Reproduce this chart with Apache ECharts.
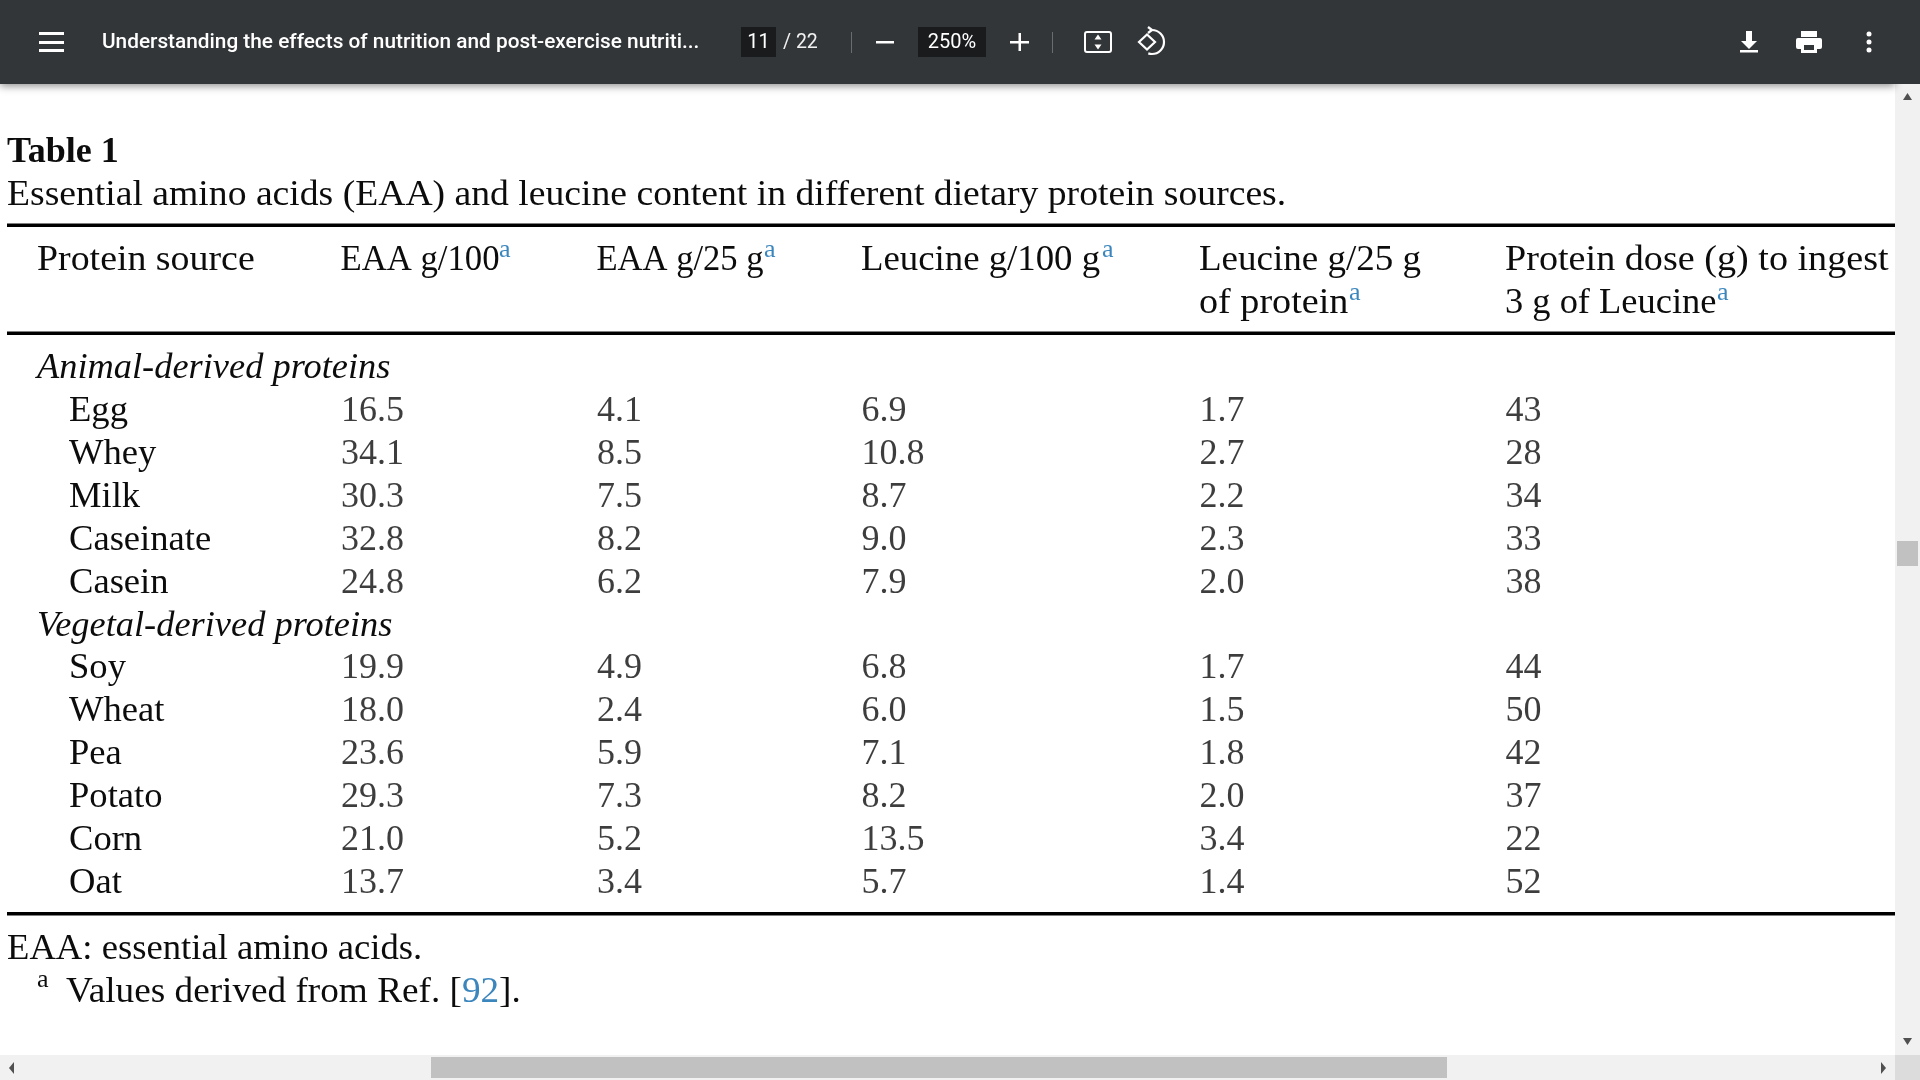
<![CDATA[<!DOCTYPE html>
<html><head><meta charset="utf-8">
<style>html,body{margin:0;padding:0;background:#fff;overflow:hidden}#c{width:1920px;height:1080px}</style>
<script src="https://cdn.jsdelivr.net/npm/echarts@6/dist/echarts.min.js"></script>
</head><body><div id="c"></div>
<script>
const rows = ['Animal-derived proteins','Egg','Whey','Milk','Caseinate','Casein','Vegetal-derived proteins','Soy','Wheat','Pea','Potato','Corn','Oat'];
const groupRows = ['Animal-derived proteins','Vegetal-derived proteins'];
const eaa100 = [null,16.5,34.1,30.3,32.8,24.8,null,19.9,18.0,23.6,29.3,21.0,13.7];
const eaa25 = [null,4.1,8.5,7.5,8.2,6.2,null,4.9,2.4,5.9,7.3,5.2,3.4];
const leu100 = [null,6.9,10.8,8.7,9.0,7.9,null,6.8,6.0,7.1,8.2,13.5,5.7];
const leu25 = [null,1.7,2.7,2.2,2.3,2.0,null,1.7,1.5,1.8,2.0,3.4,1.4];
const dose = [null,43,28,34,33,38,null,44,50,42,37,22,52];

const SERIF = '"Liberation Serif"';
const FS = 36, INK = '#0c0c0c', BLUE = '#3b86bd', BAR = '#323639';
const columns = [
  {name:'EAA g/100', x:340.5, values:eaa100, digits:1},
  {name:'EAA g/25 g', x:596.5, values:eaa25, digits:1},
  {name:'Leucine g/100 g', x:861, values:leu100, digits:1},
  {name:'Leucine g/25 g of protein', x:1199, values:leu25, digits:1},
  {name:'Protein dose (g) to ingest 3 g of Leucine', x:1505, values:dose, digits:0}
];

const txt = (x,y,text,o={},sx=1) => ({type:'text',x,y,scaleX:sx,silent:true,style:Object.assign({
  text,fill:INK,font:`${FS}px ${SERIF}`,textVerticalAlign:'middle',textAlign:'left'},o)});
const rect = (x,y,w,h,fill,extra={}) => ({type:'rect',silent:true,shape:Object.assign({x,y,width:w,height:h},extra.shape||{}),style:Object.assign({fill},extra.style||{})});
const tri = (pts,fill='#505050') => ({type:'polygon',silent:true,shape:{points:pts},style:{fill}});
const stroke = {fill:'none',stroke:'#fff',lineWidth:2.2};
const UI = '400 20px Roboto';

const toolbar = [
  rect(0,0,1895,84,BAR,{style:{shadowBlur:8,shadowColor:'rgba(0,0,0,0.45)',shadowOffsetY:2}}),
  rect(1895,0,25,84,BAR),
  rect(39,32,25,3,'#fff'),rect(39,41,25,3,'#fff'),rect(39,49,25,3,'#fff'),
  txt(102,43,'Understanding the effects of nutrition and post-exercise nutriti...',{fill:'#fff',font:'500 20.8px Roboto'}),
  rect(741,27,35,30,'#191b1c'),
  txt(758.5,43,'11',{fill:'#fff',font:UI,textAlign:'center'}),
  txt(783,43,'/ 22',{fill:'#f1f1f1',font:'400 19.5px Roboto'}),
  rect(851,32,1,21,'#6a6d70'),
  rect(876,41,18,2.5,'#fff'),
  rect(918,27,68,30,'#191b1c'),
  txt(952,43,'250%',{fill:'#fff',font:UI,textAlign:'center'}),
  rect(1010,41,19,2.5,'#fff'),rect(1018.5,33,2.5,18,'#fff'),
  rect(1052,32,1,21,'#6a6d70'),
  {type:'rect',silent:true,shape:{x:1085,y:32,width:26,height:20,r:2},style:{fill:'none',stroke:'#fff',lineWidth:2}},
  tri([[1098,34.5],[1094.5,39.5],[1101.5,39.5]],'#fff'),
  tri([[1098,49.5],[1094.5,44.5],[1101.5,44.5]],'#fff'),
  {type:'arc',silent:true,shape:{cx:1152,cy:42,r:12,startAngle:-Math.PI/2,endAngle:Math.PI*0.6},style:stroke},
  {type:'polyline',silent:true,shape:{points:[[1152,30],[1148,27]]},style:stroke},
  {type:'polyline',silent:true,shape:{points:[[1152,30],[1148,33]]},style:stroke},
  {type:'polygon',silent:true,shape:{points:[[1147,34.5],[1139,42],[1147,49.5],[1155,42]]},style:stroke},
  rect(1746,31,6,11,'#fff'),
  tri([[1741,41],[1757,41],[1749,49]],'#fff'),
  rect(1740,50,18,2.5,'#fff'),
  rect(1801,31,16,6,'#fff'),
  {type:'rect',silent:true,shape:{x:1796,y:38,width:26,height:11,r:2},style:{fill:'#fff'}},
  rect(1801,45,16,8,'#fff'),rect(1804,45,10,5,BAR),
  {type:'circle',silent:true,shape:{cx:1869,cy:34,r:2.5},style:{fill:'#fff'}},
  {type:'circle',silent:true,shape:{cx:1869,cy:42,r:2.5},style:{fill:'#fff'}},
  {type:'circle',silent:true,shape:{cx:1869,cy:50,r:2.5},style:{fill:'#fff'}}
];
const scrollbars = [
  rect(1895,84,25,971,'#f1f1f1'),
  rect(1897,541,21,25,'#c1c1c1'),
  tri([[1907.5,93],[1903,100],[1912,100]]),
  tri([[1907.5,1045],[1903,1038],[1912,1038]]),
  rect(0,1055,1895,25,'#f1f1f1'),
  rect(1895,1055,25,25,'#dcdcdc'),
  rect(431,1057,1016,21,'#c1c1c1'),
  tri([[9,1068],[14,1062],[14,1074]]),
  tri([[1886,1068],[1881,1062],[1881,1074]])
];
const rules = [rect(7,223.5,1888,3.5,'#000'),rect(7,331.5,1888,3.5,'#000'),rect(7,912,1888,3.5,'#000')];
const sup = (x,y,color=BLUE) => txt(x,y,'a',{fill:color,font:`26px ${SERIF}`});
const header = [
  txt(37,261,'Protein source',{},1.052),
  txt(340.5,261,'EAA g/100',{},0.964),sup(499,250),
  txt(596.5,261,'EAA g/25 g',{},0.96),sup(764,250),
  txt(861,261,'Leucine g/100 g',{},1.022),sup(1102,250),
  txt(1199,261,'Leucine g/25 g',{},1.028),
  txt(1199,304,'of protein',{},1.06),sup(1349,293),
  txt(1505,261,'Protein dose (g) to ingest',{},1.06),
  txt(1505,304,'3 g of Leucine',{},1.012),sup(1717,293)
];
const titles = [
  txt(7,153,'Table 1',{font:`bold ${FS}px ${SERIF}`}),
  txt(7,196,'Essential amino acids (EAA) and leucine content in different dietary protein sources.',{},1.046)
];
const notes = [
  txt(7,950,'EAA: essential amino acids.',{},1.018),
  sup(37,980,INK),
  {type:'text',x:66,y:993,scaleX:1.034,silent:true,style:{text:'{t|Values derived from Ref. [}{b|92}{t|].}',textVerticalAlign:'middle',font:`${FS}px ${SERIF}`,
    rich:{t:{fill:INK,font:`${FS}px ${SERIF}`},b:{fill:BLUE,font:`${FS}px ${SERIF}`}}}}
];

const chart = echarts.init(document.getElementById('c'),null,{renderer:'canvas',width:1920,height:1080});
chart.setOption({
  animation:false,
  backgroundColor:'#fff',
  grid:{left:0,right:0,top:347.5,height:557,containLabel:false},
  xAxis:{type:'value',min:0,max:1920,show:false},
  yAxis:{type:'category',inverse:true,data:rows,axisLine:{show:false},axisTick:{show:false},splitLine:{show:false},
    axisLabel:{inside:true,margin:37,interval:0,
      formatter:v=>groupRows.includes(v)?`{g|${v}}`:`{i|${v}}`,
      rich:{g:{fontFamily:'Liberation Serif',fontSize:36.4,fontStyle:'italic',color:INK},
            i:{fontFamily:'Liberation Serif',fontSize:36.6,color:INK,padding:[0,0,0,32]}}}},
  series:columns.map(c=>({
    type:'scatter',name:c.name,symbolSize:1,itemStyle:{color:'transparent'},silent:true,
    data:c.values.map((v,i)=>v===null?null:[c.x,rows[i],v]).filter(Boolean),
    label:{show:true,position:'right',distance:0,color:INK,fontFamily:'Liberation Serif',fontSize:FS,
      formatter:p=>p.value[2].toFixed(c.digits)}
  })),
  graphic:{elements:[...scrollbars,...toolbar,...titles,...rules,...header,...notes]}
});
</script></body></html>]]>
